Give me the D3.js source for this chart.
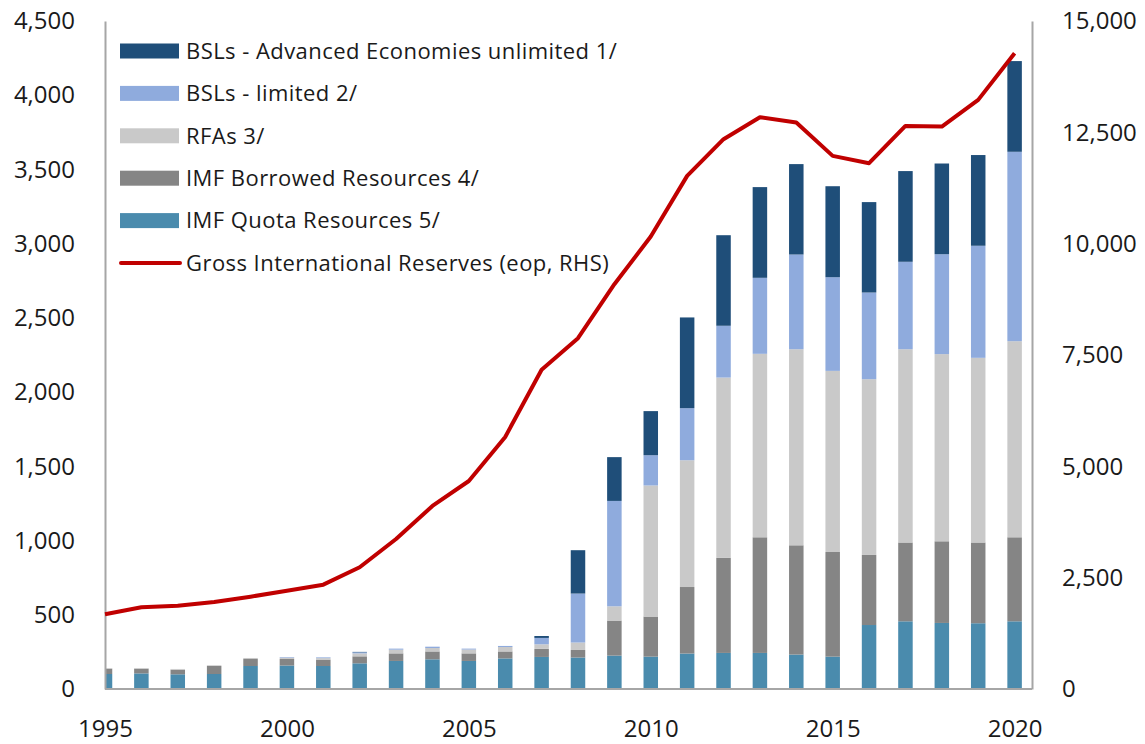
<!DOCTYPE html>
<html lang="en">
<head>
    <meta charset="UTF-8">
    <title>Global Financial Safety Net</title>
    <script src="https://d3js.org/d3.v7.min.js"></script>
    <style>
        body {
            margin: 0;
            background: #fff;
        }
        svg {
            display: block;
            font-family: "Open Sans", sans-serif;
        }
        .tick text {
            font-size: 24px;
            fill: #1a1a1a;
        }
        .legend text {
            font-size: 22px;
            letter-spacing: 0.45px;
            fill: #1a1a1a;
        }
    </style>
</head>
<body>
    <svg width="1145" height="744"></svg>
    <script>
        // Data (USD billions)
        const years = d3.range(1995, 2021);
        const quota      = [101, 105, 99, 101, 155, 158, 155, 173, 189, 200, 189, 206, 216, 212, 225, 218, 239, 243, 243, 232, 218, 431, 456, 445, 443, 456];
        const borrowed   = [36, 32, 31, 54, 47, 44, 43, 47, 51, 53, 51, 47, 54, 51, 236, 270, 448, 640, 779, 736, 705, 472, 531, 550, 544, 566];
        const rfas       = [3, 3, 5, 5, 7, 9, 10, 20, 25, 23, 26, 30, 31, 50, 96, 883, 854, 1215, 1236, 1321, 1220, 1184, 1302, 1261, 1244, 1321];
        const bslLimited = [0, 0, 0, 0, 0, 4, 5, 7, 7, 9, 6, 7, 43, 330, 710, 204, 351, 349, 512, 638, 631, 584, 589, 673, 755, 1276];
        const bslUnlim   = [0, 0, 0, 0, 0, 0, 0, 3, 0, 0, 0, 0, 13, 292, 295, 297, 611, 610, 611, 609, 613, 609, 611, 611, 611, 611];
        const reserves   = [1678, 1835, 1871, 1954, 2073, 2208, 2343, 2733, 3369, 4110, 4671, 5660, 7170, 7877, 9089, 10159, 11522, 12346, 12840, 12719, 11971, 11807, 12645, 12630, 13229, 14278];

        const leftTicks = d3.range(0, 4501, 500);
        const rightTicks = d3.range(0, 15001, 2500);
        const yearTicks = [1995, 2000, 2005, 2010, 2015, 2020];

        // series in stacking order (bottom first)
        const seriesKeys = ["quota", "borrowed", "rfas", "bslLimited", "bslUnlim"];
        const seriesColors = {
            quota: "#4a8bad",
            borrowed: "#858585",
            rfas: "#c9c9c9",
            bslLimited: "#8fabdd",
            bslUnlim: "#1f4e79"
        };
        const legendItems = [
            {label: "BSLs - Advanced Economies unlimited 1/", key: "bslUnlim"},
            {label: "BSLs - limited 2/", key: "bslLimited"},
            {label: "RFAs 3/", key: "rfas"},
            {label: "IMF Borrowed Resources 4/", key: "borrowed"},
            {label: "IMF Quota Resources 5/", key: "quota"},
            {label: "Gross International Reserves (eop, RHS)", key: "line"}
        ];
        const lineColor = "#c00000";

        const rows = years.map((y, i) => ({
            year: y,
            quota: quota[i],
            borrowed: borrowed[i],
            rfas: rfas[i],
            bslLimited: bslLimited[i],
            bslUnlim: bslUnlim[i],
            reserves: reserves[i]
        }));

        // Plot frame
        const plot = {left: 105, right: 1032, top: 21, bottom: 689};
        const barWidth = 14.5;

        const svg = d3.select("svg");

        const x = d3.scaleLinear()
                    .domain([1995, 2020])
                    .range([plot.left, 1014.6]);

        const yL = d3.scaleLinear()
                     .domain([0, 4500])
                     .range([plot.bottom, plot.top]);

        const yR = d3.scaleLinear()
                     .domain([0, 15000])
                     .range([plot.bottom, plot.top]);

        svg.append("defs").append("clipPath")
           .attr("id", "plot-clip")
           .append("rect")
           .attr("x", plot.left)
           .attr("y", plot.top - 10)
           .attr("width", plot.right - plot.left)
           .attr("height", plot.bottom - plot.top + 10);

        // Stacked bars
        const stacked = d3.stack().keys(seriesKeys)(rows);

        svg.append("g")
           .attr("clip-path", "url(#plot-clip)")
           .selectAll("g")
           .data(stacked)
           .enter().append("g")
           .attr("fill", d => seriesColors[d.key])
           .selectAll("rect")
           .data(d => d)
           .enter().append("rect")
           .attr("x", d => x(d.data.year) - barWidth / 2)
           .attr("y", d => yL(d[1]))
           .attr("width", barWidth)
           .attr("height", d => yL(d[0]) - yL(d[1]));

        // Axes
        const axisColor = "#a6a6a6";

        const gLeft = svg.append("g")
           .attr("transform", `translate(${plot.left},0)`)
           .call(d3.axisLeft(yL).tickValues(leftTicks).tickFormat(d3.format(",")).tickSize(0).tickPadding(30));

        const gRight = svg.append("g")
           .attr("transform", `translate(${plot.right},0)`)
           .call(d3.axisRight(yR).tickValues(rightTicks).tickFormat(d3.format(",")).tickSize(0).tickPadding(30));

        const gBottom = svg.append("g")
           .attr("transform", `translate(0,${plot.bottom})`)
           .call(d3.axisBottom(x).tickValues(yearTicks).tickFormat(d3.format("d")).tickSize(0).tickPadding(31));
        gBottom.select(".domain").attr("d", `M${plot.left},0H${plot.right}`);

        [gLeft, gRight, gBottom].forEach(g => {
            g.select(".domain").attr("stroke", axisColor).attr("stroke-width", 2);
            g.attr("font-family", null).attr("font-size", null);
        });

        // Reserves line (right axis)
        const line = d3.line()
                       .x(d => x(d.year))
                       .y(d => yR(d.reserves));

        svg.append("path")
           .datum(rows)
           .attr("fill", "none")
           .attr("stroke", lineColor)
           .attr("stroke-width", 4)
           .attr("stroke-linejoin", "round")
           .attr("d", line);

        // Legend
        const legend = svg.append("g")
                          .attr("class", "legend")
                          .attr("transform", "translate(120,51)");

        const item = legend.selectAll("g")
                           .data(legendItems)
                           .enter().append("g")
                           .attr("transform", (d, i) => `translate(0,${i * 42.4})`);

        item.filter(d => d.key !== "line")
            .append("rect")
            .attr("x", 0)
            .attr("y", -7.5)
            .attr("width", 59)
            .attr("height", 15)
            .attr("fill", d => seriesColors[d.key]);

        item.filter(d => d.key === "line")
            .append("line")
            .attr("x1", 1)
            .attr("x2", 60)
            .attr("stroke", lineColor)
            .attr("stroke-width", 4)
            .attr("stroke-linecap", "round");

        item.append("text")
            .attr("x", 66)
            .attr("dy", "0.35em")
            .text(d => d.label);
    </script>
</body>
</html>
